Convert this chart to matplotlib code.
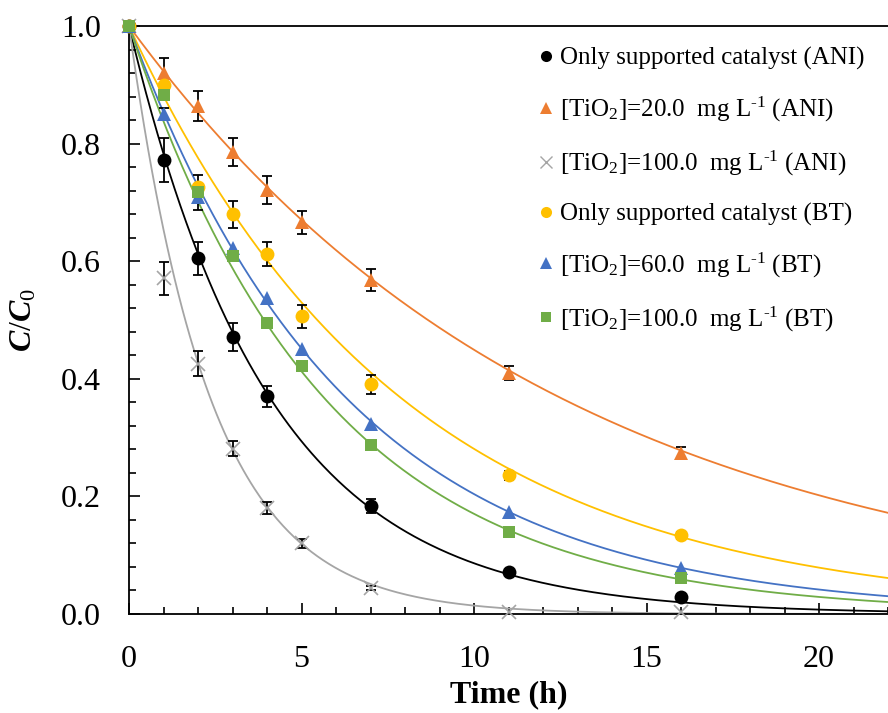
import numpy as np
import matplotlib
matplotlib.use("Agg")
import matplotlib.pyplot as plt
from matplotlib.lines import Line2D
from matplotlib.ticker import MultipleLocator, FormatStrFormatter

plt.rcParams['font.family'] = ['Liberation Serif', 'DejaVu Serif']
plt.rcParams['mathtext.fontset'] = 'custom'
plt.rcParams['mathtext.rm'] = 'Liberation Serif'
plt.rcParams['mathtext.it'] = 'Liberation Serif:italic:bold'
plt.rcParams['mathtext.bf'] = 'Liberation Serif:bold'

# ---- data ----
t_full = [0, 1, 2, 3, 4, 5, 7, 11, 16]
t_ani_only = [0, 1, 2, 3, 4, 7, 11, 16]

ani_only = [1.0, 0.772, 0.605, 0.471, 0.370, 0.183, 0.071, 0.029]
ani_only_err = [0, 0.038, 0.028, 0.024, 0.018, 0.012, 0, 0]

ani_tio2_20 = [1.0, 0.920, 0.864, 0.786, 0.721, 0.666, 0.568, 0.410, 0.274]
ani_tio2_20_err = [0, 0.026, 0.026, 0.024, 0.024, 0.020, 0.018, 0.012, 0.010]

ani_tio2_100 = [1.0, 0.571, 0.426, 0.281, 0.180, 0.120, 0.044, 0.004, 0.003]
ani_tio2_100_err = [0, 0.028, 0.022, 0.013, 0.010, 0.007, 0.004, 0, 0]

bt_only = [1.0, 0.900, 0.727, 0.680, 0.612, 0.506, 0.391, 0.236, 0.134]
bt_only_err = [0, 0, 0, 0.023, 0.020, 0.020, 0.016, 0.008, 0.006]

bt_tio2_60 = [1.0, 0.850, 0.710, 0.622, 0.537, 0.451, 0.323, 0.174, 0.078]
bt_tio2_60_err = [0, 0.010, 0, 0, 0, 0, 0, 0, 0]

bt_tio2_100 = [1.0, 0.883, 0.717, 0.608, 0.495, 0.421, 0.287, 0.140, 0.061]
bt_tio2_100_err = [0, 0, 0.030, 0, 0, 0, 0, 0, 0]

# pseudo-first-order rate constants of the fitted curves (h^-1)
k_fit = [0.245, 0.080, 0.425, 0.127, 0.159, 0.177]

labels = [
    'Only supported catalyst (ANI)',
    r'[TiO$_2$]=20.0  mg L$^{\text{-1}}$ (ANI)',
    r'[TiO$_2$]=100.0  mg L$^{\text{-1}}$ (ANI)',
    'Only supported catalyst (BT)',
    r'[TiO$_2$]=60.0  mg L$^{\text{-1}}$ (BT)',
    r'[TiO$_2$]=100.0  mg L$^{\text{-1}}$ (BT)',
]
colors = ['#000000', '#ED7D31', '#A5A5A5', '#FFC000', '#4472C4', '#70AD47']
markers = ['o', '^', 'x', 'o', '^', 's']
msizes = [10, 10.5, 10, 10, 10.5, 9]

series = [
    (t_ani_only, ani_only, ani_only_err),
    (t_full, ani_tio2_20, ani_tio2_20_err),
    (t_full, ani_tio2_100, ani_tio2_100_err),
    (t_full, bt_only, bt_only_err),
    (t_full, bt_tio2_60, bt_tio2_60_err),
    (t_full, bt_tio2_100, bt_tio2_100_err),
]

fig = plt.figure(figsize=(8.88, 7.13), dpi=100)
ax = fig.add_axes([129 / 888, 99 / 713, 759 / 888, 588 / 713])

XMAX = 22
t_line = np.linspace(0, XMAX, 400)
handles = []
for i, ((tt, yy, ee), c, m, ms, k) in enumerate(zip(series, colors, markers, msizes, k_fit)):
    ax.plot(t_line, np.exp(-k * t_line), color=c, lw=1.3, zorder=2)
    tt = np.array(tt); yy = np.array(yy); ee = np.array(ee)
    mask = ee > 0
    if mask.any():
        ax.errorbar(tt[mask], yy[mask], yerr=ee[mask], fmt='none', ecolor='black',
                    elinewidth=1.3, capsize=3.5, capthick=1.3, zorder=3, clip_on=False)
    if m == 'x':
        ax.plot(tt, yy, linestyle='none', marker=m, color=c, markersize=ms,
                markeredgewidth=1.2, zorder=4, clip_on=False)
    else:
        ax.plot(tt, yy, linestyle='none', marker=m, color=c, markersize=ms,
                markeredgewidth=0, zorder=4 + i * 0.01, clip_on=False)
    handles.append(Line2D([], [], linestyle='none', marker=m, color=c,
                          markersize=ms * 0.8, markeredgewidth=(1.0 if m == 'x' else 0)))

ax.set_xlim(0, XMAX)
ax.set_ylim(0, 1.0)
ax.xaxis.set_major_locator(MultipleLocator(5))
ax.xaxis.set_minor_locator(MultipleLocator(1))
ax.yaxis.set_major_locator(MultipleLocator(0.2))
ax.yaxis.set_minor_locator(MultipleLocator(0.04))
ax.yaxis.set_major_formatter(FormatStrFormatter('%.1f'))

ax.spines['right'].set_visible(False)
for s in ['left', 'bottom', 'top']:
    ax.spines[s].set_linewidth(1.3)
ax.tick_params(which='both', direction='in', top=False, right=False, width=1.2)
ax.tick_params(which='major', length=8, labelsize=23)
ax.tick_params(which='minor', length=5)
ax.tick_params(axis='x', which='major', pad=22)
ax.tick_params(axis='y', which='major', pad=20)

ax.set_xlabel('Time (h)', fontsize=23, fontweight='bold', labelpad=5)
ax.set_ylabel(r'$C/C_0$', fontsize=23, labelpad=16)

leg = ax.legend(handles, labels, loc='upper left', bbox_to_anchor=(537 / 888, 1 - 47 / 713),
                bbox_transform=fig.transFigure, frameon=False, fontsize=18,
                handlelength=0.7, handletextpad=0.2, labelspacing=0.99, borderpad=0,
                borderaxespad=0)

fig.savefig('out.png', dpi=100)
